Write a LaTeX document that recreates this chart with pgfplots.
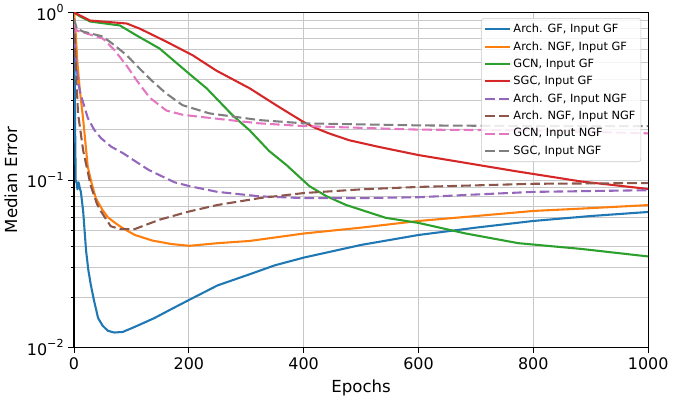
\documentclass[border=0pt]{standalone}
\usepackage{fontspec}
\setmainfont{DejaVu Sans}
\usepackage{pgfplots}
\pgfplotsset{compat=1.18}

\definecolor{c0}{HTML}{1F77B4}
\definecolor{c1}{HTML}{FF7F0E}
\definecolor{c2}{HTML}{2CA02C}
\definecolor{c3}{HTML}{D62728}
\definecolor{c4}{HTML}{9467BD}
\definecolor{c5}{HTML}{8C564B}
\definecolor{c6}{HTML}{E377C2}
\definecolor{c7}{HTML}{7F7F7F}
\definecolor{gridc}{HTML}{C8C8C8}

\newcommand{\tenpow}[1]{10\raisebox{0.85ex}{\fontsize{8}{8}\selectfont #1}}

\begin{document}
\begin{tikzpicture}
\begin{axis}[
  scale only axis,
  width=414.7pt, height=242pt,
  ymode=log,
  xmin=0, xmax=1000,
  ymin=0.01, ymax=1,
  xtick={0,200,400,600,800,1000},
  ytick={1,0.1,0.01},
  minor ytick={0.02,0.03,0.04,0.05,0.06,0.07,0.08,0.09,0.2,0.3,0.4,0.5,0.6,0.7,0.8,0.9},
  yticklabels={\tenpow{0},\tenpow{−1},\tenpow{−2}},
  /pgf/number format/assume math mode=true,
  /pgf/number format/1000 sep={},
  tick label style={font=\fontsize{11.5}{13}\selectfont},
  label style={font=\fontsize{12}{14}\selectfont},
  xlabel={Epochs},
  ylabel={Median Error},
  tick align=outside,
  tick pos=left,
  major tick length=4pt,
  minor tick length=2.5pt,
  every tick/.style={black, line width=0.6pt},
  xmajorgrids=true,
  ymajorgrids=true,
  yminorgrids=true,
  major grid style={gridc, line width=0.7pt},
  minor grid style={gridc, line width=0.7pt},
  axis line style={line width=0.8pt},
  legend cell align=left,
  legend style={at={(1,1)}, anchor=north east, xshift=-5pt, yshift=-4pt,
    font=\fontsize{8.2}{10}\selectfont, draw=gridc, rounded corners=2pt,
    fill=white, fill opacity=0.85, text opacity=1, row sep=0.9pt,
    inner sep=2pt},
  legend image code/.code={\draw[#1] (0cm,0cm) -- (0.62cm,0cm);},
  every axis plot/.append style={line width=1.5pt, line join=round},
]
\addplot[c0] coordinates {(0,1.0)(1,0.5)(2,0.2)(3,0.1)(5,0.095)(6,0.088)(8,0.097)(10,0.09)(12,0.085)(16,0.065)(21,0.038)(25,0.029)(29,0.024)(35,0.019)(42,0.015)(50,0.0135)(59,0.0126)(70,0.0123)(85,0.0124)(106,0.0133)(140,0.015)(170,0.017)(201,0.0193)(250,0.0235)(306,0.0274)(350,0.031)(401,0.0345)(500,0.041)(600,0.047)(700,0.052)(800,0.057)(900,0.061)(1000,0.0645)};
\addlegendentry{Arch. GF, Input GF}
\addplot[c1] coordinates {(0,1.0)(3,0.75)(6,0.5)(10,0.35)(16,0.23)(24,0.12)(31,0.095)(38,0.078)(50,0.066)(59,0.060)(70,0.056)(80,0.053)(92,0.050)(106,0.047)(137,0.0435)(170,0.0415)(201,0.0405)(250,0.042)(306,0.0433)(401,0.048)(500,0.052)(600,0.057)(700,0.061)(800,0.0654)(900,0.068)(1000,0.0709)};
\addlegendentry{Arch. NGF, Input GF}
\addplot[c2] coordinates {(0,1.0)(10,0.95)(28,0.884)(80,0.837)(109,0.73)(149,0.61)(201,0.43)(231,0.353)(276,0.244)(306,0.198)(340,0.149)(370,0.123)(410,0.092)(440,0.08)(474,0.071)(543,0.0595)(600,0.0555)(682,0.048)(774,0.042)(884,0.0388)(1000,0.035)};
\addlegendentry{GCN, Input GF}
\addplot[c3] coordinates {(0,1.0)(28,0.896)(92,0.86)(115,0.80)(161,0.67)(207,0.555)(248,0.45)(306,0.353)(352,0.28)(398,0.224)(420,0.205)(444,0.19)(479,0.173)(530,0.158)(600,0.141)(680,0.127)(769,0.113)(884,0.098)(1000,0.0885)};
\addlegendentry{SGC, Input GF}
\addplot[c4, dash pattern=on 7pt off 3pt] coordinates {(0,0.8)(2,0.6)(5,0.45)(8,0.37)(12,0.32)(16,0.29)(24,0.235)(35,0.2)(47,0.178)(65,0.158)(85,0.145)(106,0.13)(130,0.115)(149,0.107)(175,0.097)(201,0.092)(250,0.085)(323,0.080)(401,0.078)(500,0.078)(600,0.079)(700,0.082)(800,0.085)(1000,0.087)};
\addlegendentry{Arch. GF, Input NGF}
\addplot[c5, dash pattern=on 7pt off 3pt] coordinates {(0,0.9)(3,0.5)(7,0.25)(16,0.15)(29,0.093)(40,0.072)(47,0.065)(64,0.053)(80,0.051)(106,0.051)(149,0.058)(201,0.065)(250,0.071)(323,0.078)(401,0.0837)(500,0.088)(600,0.091)(800,0.095)(1000,0.096)};
\addlegendentry{Arch. NGF, Input NGF}
\addplot[c6, dash pattern=on 7pt off 3pt] coordinates {(0,0.85)(5,0.78)(22,0.75)(50,0.70)(70,0.6)(92,0.48)(110,0.39)(132,0.31)(161,0.26)(190,0.245)(236,0.235)(323,0.218)(401,0.21)(600,0.20)(800,0.198)(1000,0.19)};
\addlegendentry{GCN, Input NGF}
\addplot[c7, dash pattern=on 7pt off 3pt] coordinates {(0,0.92)(5,0.8)(16,0.77)(50,0.72)(70,0.64)(92,0.555)(115,0.46)(137,0.388)(160,0.33)(189,0.28)(236,0.25)(323,0.228)(401,0.218)(600,0.212)(800,0.21)(1000,0.21)};
\addlegendentry{SGC, Input NGF}
\end{axis}
\end{tikzpicture}
\end{document}
